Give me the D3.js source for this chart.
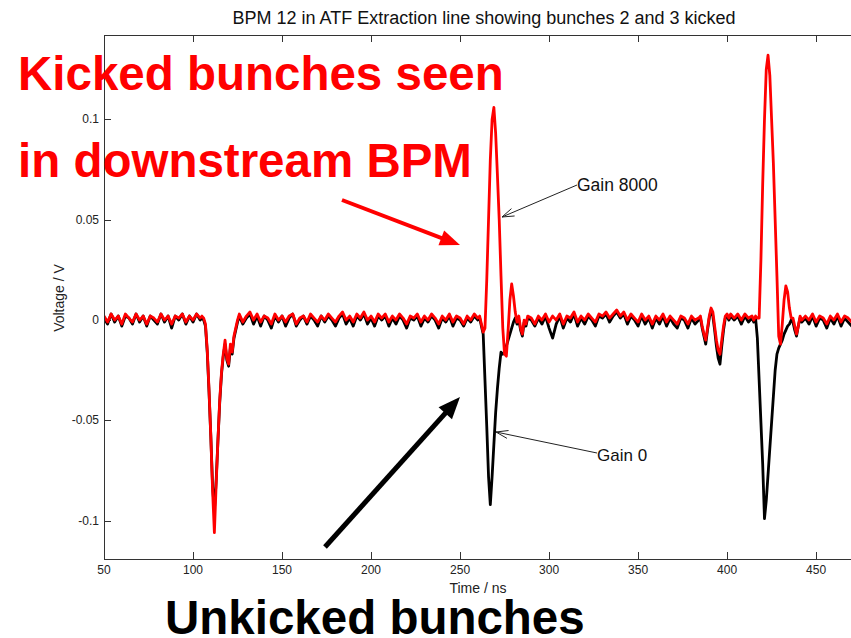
<!DOCTYPE html>
<html><head><meta charset="utf-8">
<script src="https://cdn.jsdelivr.net/npm/d3@7"></script>
<style>html,body{margin:0;padding:0;background:#fff;}svg{display:block;}</style>
</head><body>
<script>
// ---- data ----
const timeNs = [
 50,52,54,56,58,60,62,64,66,68,70,72,74,76,78,80,82,84,86,88,90,92,94,96,98,100,102,104,
 105,106,107,108,109,110,111,112,113,114,115,116,117,118,119,120,121,122,123,124,125,126,127,128,
 130,132,134,136,138,140,142,144,146,148,150,152,154,156,158,160,162,164,166,168,170,172,174,176,178,180,182,184,186,188,190,192,194,196,198,200,202,204,206,208,210,212,214,216,218,220,222,224,226,228,230,232,234,236,238,240,242,244,246,248,250,252,254,256,258,260,
 261,262,263,264,265,266,267,268,269,270,271,272,273,274,275,276,277,278,279,280,281,282,283,284,285,286,287,288,
 290,292,294,296,298,300,302,304,306,308,310,312,314,316,318,320,322,324,326,328,330,332,334,336,338,340,342,344,346,348,350,352,354,356,358,360,362,364,366,368,370,372,374,376,378,380,382,384,
 385,386,387,388,389,390,391,392,393,394,395,396,397,398,399,400,401,402,
 404,406,408,410,412,414,
 415,416,417,418,419,420,421,422,423,424,425,426,427,428,429,430,431,432,433,434,435,436,437,438,439,440,441,442,
 444,446,448,450,452,454,456,458,460,462,464,466,468,470,472,474
];
// Gain 0 trace (black)
const gain0 = [
 0.001,-0.002,0.003,-0.001,0.002,-0.003,0.002,0.001,-0.002,0.003,-0.001,0.002,-0.003,0.002,0.000,-0.002,0.003,-0.001,0.002,-0.004,0.002,0.000,0.003,-0.002,0.002,-0.001,0.003,0.000,
 0.001,0.000,-0.003,-0.016,-0.036,-0.058,-0.083,-0.095,-0.080,-0.060,-0.041,-0.027,-0.018,-0.012,-0.020,-0.023,-0.014,-0.017,-0.009,-0.005,-0.001,0.002,0.000,-0.002,
 0.001,0.003,-0.002,0.002,-0.003,0.002,0.000,-0.004,0.002,-0.001,0.002,-0.003,0.001,0.003,-0.003,0.000,0.002,-0.002,0.002,0.000,-0.003,0.002,-0.001,0.002,0.000,-0.003,0.001,0.003,-0.002,0.001,-0.003,0.002,0.000,0.003,-0.002,0.001,-0.003,0.002,0.000,0.002,-0.003,0.001,-0.002,0.002,0.000,-0.004,0.001,0.000,0.002,-0.003,0.001,-0.001,0.002,0.000,-0.004,0.001,-0.001,0.002,-0.003,0.001,0.000,-0.003,0.001,-0.001,0.002,0.000,
 0.001,-0.003,-0.007,-0.030,-0.053,-0.078,-0.092,-0.078,-0.062,-0.046,-0.034,-0.024,-0.016,-0.017,-0.016,-0.013,-0.010,-0.007,-0.004,-0.001,0.001,-0.002,0.000,-0.005,-0.008,-0.001,-0.003,0.001,
 0.000,-0.003,0.001,-0.002,0.002,-0.004,-0.009,-0.002,0.002,-0.004,0.001,-0.001,0.003,-0.003,0.001,-0.002,0.002,0.000,-0.003,0.002,0.001,0.003,-0.001,0.002,0.004,0.001,0.003,-0.002,0.002,0.000,-0.003,0.002,-0.002,0.001,-0.004,0.001,-0.002,0.002,-0.003,0.001,-0.002,-0.004,0.001,0.000,-0.004,0.001,-0.002,0.000,
 0.001,-0.004,-0.008,-0.012,-0.005,0.001,0.005,0.002,-0.005,-0.013,-0.019,-0.022,-0.013,-0.005,0.001,0.002,0.000,0.002,
 0.000,0.002,-0.002,0.002,-0.001,0.001,
 -0.001,0.001,-0.009,-0.030,-0.051,-0.072,-0.099,-0.090,-0.077,-0.064,-0.051,-0.038,-0.025,-0.017,-0.014,-0.012,-0.010,-0.007,-0.005,-0.003,-0.002,0.000,-0.001,-0.005,-0.008,-0.003,0.001,-0.001,
 0.001,-0.002,0.002,-0.003,0.001,0.000,-0.004,0.001,-0.002,0.002,-0.003,0.001,-0.001,-0.003,0.001,-0.001
];
// Gain 8000 trace (red)
const gain8000 = [
 0.002,-0.001,0.003,0.000,0.002,-0.002,0.003,0.001,-0.001,0.003,0.000,0.002,-0.002,0.002,0.001,-0.001,0.003,0.000,0.002,-0.002,0.002,0.001,0.003,-0.001,0.002,0.000,0.003,0.001,
 0.002,0.001,-0.002,-0.015,-0.035,-0.058,-0.085,-0.106,-0.082,-0.060,-0.040,-0.026,-0.017,-0.010,-0.019,-0.022,-0.012,-0.016,-0.008,-0.004,0.000,0.003,0.001,-0.001,
 0.002,0.004,0.000,0.003,-0.001,0.002,0.001,-0.002,0.003,0.000,0.002,-0.001,0.002,0.003,-0.002,0.001,0.002,-0.001,0.003,0.001,-0.001,0.002,0.000,0.003,0.001,-0.001,0.002,0.004,0.000,0.002,-0.001,0.003,0.001,0.004,0.000,0.002,-0.001,0.003,0.001,0.003,-0.001,0.002,0.000,0.003,0.001,-0.002,0.002,0.001,0.003,-0.001,0.002,0.000,0.003,0.001,-0.002,0.002,0.000,0.003,-0.001,0.002,0.001,-0.002,0.002,0.000,0.003,0.001,
 0.002,-0.002,-0.006,-0.004,0.020,0.050,0.080,0.100,0.106,0.093,0.072,0.050,0.022,-0.004,-0.017,-0.018,-0.005,0.010,0.018,0.012,0.004,-0.001,0.002,-0.004,-0.007,0.000,-0.002,0.002,
 0.001,-0.002,0.002,0.000,0.003,-0.001,0.002,0.000,0.003,-0.002,0.002,0.001,0.004,-0.001,0.002,0.000,0.003,0.001,-0.001,0.003,0.002,0.004,0.001,0.003,0.005,0.002,0.004,0.000,0.003,0.001,-0.001,0.003,0.000,0.002,-0.002,0.002,0.000,0.003,-0.001,0.002,0.000,-0.002,0.002,0.001,-0.002,0.002,0.000,0.001,
 0.002,-0.003,-0.007,-0.010,-0.004,0.002,0.006,0.004,-0.003,-0.010,-0.015,-0.017,-0.010,-0.003,0.002,0.003,0.001,0.003,
 0.001,0.003,0.000,0.003,0.001,0.002,
 0.000,0.002,0.001,0.001,0.030,0.068,0.100,0.125,0.132,0.122,0.100,0.078,0.050,0.022,-0.008,-0.012,-0.002,0.010,0.017,0.014,0.006,0.001,0.001,-0.003,-0.007,-0.003,0.002,0.000,
 0.002,0.000,0.003,-0.001,0.002,0.001,-0.002,0.002,0.000,0.003,-0.001,0.002,0.001,-0.001,0.002,0.000
];
const xTicks = [50,100,150,200,250,300,350,400,450];
const yTicks = [-0.1,-0.05,0,0.05,0.1];
const yTickLabels = ["-0.1","-0.05","0","0.05","0.1"];

// ---- layout ----
const W = 851, H = 638;
const L = 104, T = 35, B = 559;
const svg = d3.select("body").append("svg").attr("width", W).attr("height", H);

const x = d3.scaleLinear().domain([50, 469.6]).range([L, W]);
const y = d3.scaleLinear().domain([-0.1191, 0.1421]).range([B, T]);

const font = "'Liberation Sans', Arial, sans-serif";

// axes frame
const axCol = "#333";
svg.append("line").attr("x1", L).attr("x2", W).attr("y1", T + 0.5).attr("y2", T + 0.5).attr("stroke", axCol);
svg.append("line").attr("x1", L).attr("x2", W).attr("y1", B + 0.5).attr("y2", B + 0.5).attr("stroke", axCol);
svg.append("line").attr("x1", L + 0.5).attr("x2", L + 0.5).attr("y1", T).attr("y2", B + 1).attr("stroke", axCol);

// x ticks (bottom & top, inward)
const xt = svg.append("g");
xTicks.forEach(t => {
  const px = Math.round(x(t)) + 0.5;
  if (t !== 50) {
    xt.append("line").attr("x1", px).attr("x2", px).attr("y1", B).attr("y2", B - 7).attr("stroke", axCol);
    xt.append("line").attr("x1", px).attr("x2", px).attr("y1", T).attr("y2", T + 7).attr("stroke", axCol);
  }
  xt.append("text").attr("x", x(t)).attr("y", B + 15).attr("text-anchor", "middle")
    .attr("font-family", font).attr("font-size", 12).attr("fill", "#222").text(d3.format("d")(t));
});
// y ticks (left, inward)
yTicks.forEach((v, i) => {
  const py = Math.round(y(v)) + 0.5;
  svg.append("line").attr("x1", L).attr("x2", L + 7).attr("y1", py).attr("y2", py).attr("stroke", axCol);
  svg.append("text").attr("x", L - 5).attr("y", y(v) + 4).attr("text-anchor", "end")
    .attr("font-family", font).attr("font-size", 12).attr("fill", "#222").text(yTickLabels[i]);
});

// titles
svg.append("text").attr("x", 484).attr("y", 24).attr("text-anchor", "middle")
  .attr("font-family", font).attr("font-size", 18).attr("fill", "#111")
  .text("BPM 12 in ATF Extraction line showing bunches 2 and 3 kicked");
svg.append("text").attr("x", 478).attr("y", 593).attr("text-anchor", "middle")
  .attr("font-family", font).attr("font-size", 14).attr("fill", "#222").text("Time / ns");
svg.append("text").attr("transform", "translate(64,298) rotate(-90)").attr("text-anchor", "middle")
  .attr("font-family", font).attr("font-size", 14).attr("fill", "#222").text("Voltage / V");

// traces
svg.append("clipPath").attr("id", "clip").append("rect").attr("x", L + 1).attr("y", T).attr("width", W - L).attr("height", B - T);
const lineGen = vals => d3.line().x((d, i) => x(timeNs[i])).y(d => y(d))(vals);
const plot = svg.append("g").attr("clip-path", "url(#clip)");
plot.append("path").attr("d", lineGen(gain0)).attr("fill", "none").attr("stroke", "#000").attr("stroke-width", 2.8).attr("stroke-linejoin", "round");
plot.append("path").attr("d", lineGen(gain8000)).attr("fill", "none").attr("stroke", "#ff0000").attr("stroke-width", 2.8).attr("stroke-linejoin", "round");

// arrow helper
function arrow(x1, y1, x2, y2, color, w, hl, hw, filled) {
  const a = Math.atan2(y2 - y1, x2 - x1);
  const bx = x2 - hl * Math.cos(a), by = y2 - hl * Math.sin(a);
  const px = -Math.sin(a) * hw / 2, py = Math.cos(a) * hw / 2;
  if (filled) {
    svg.append("line").attr("x1", x1).attr("y1", y1).attr("x2", bx + hl * 0.3 * Math.cos(a)).attr("y2", by + hl * 0.3 * Math.sin(a))
      .attr("stroke", color).attr("stroke-width", w);
    svg.append("path").attr("d", `M${x2},${y2}L${bx + px},${by + py}L${bx - px},${by - py}Z`).attr("fill", color);
  } else {
    svg.append("line").attr("x1", x1).attr("y1", y1).attr("x2", x2).attr("y2", y2).attr("stroke", color).attr("stroke-width", w);
    svg.append("path").attr("d", `M${bx + px},${by + py}L${x2},${y2}L${bx - px},${by - py}`).attr("fill", "none").attr("stroke", color).attr("stroke-width", w);
  }
}

// thin annotation arrows
arrow(577, 185, 502, 217, "#222", 1, 12, 8, false);
svg.append("text").attr("x", 577).attr("y", 191).attr("font-family", font).attr("font-size", 17.5).attr("fill", "#111").text("Gain 8000");
arrow(597, 453, 496, 432, "#222", 1, 12, 8, false);
svg.append("text").attr("x", 597).attr("y", 461).attr("font-family", font).attr("font-size", 17).attr("fill", "#111").text("Gain 0");

// big callouts
arrow(342, 200, 460, 245, "#ff0000", 4, 20, 16, true);
arrow(325, 547, 460, 397, "#000", 5, 22, 18, true);
svg.append("text").attr("x", 18).attr("y", 90).attr("font-family", font).attr("font-weight", "bold").attr("font-size", 47.5).attr("fill", "#ff0000").text("Kicked bunches seen");
svg.append("text").attr("x", 18).attr("y", 177).attr("font-family", font).attr("font-weight", "bold").attr("font-size", 47.5).attr("fill", "#ff0000").text("in downstream BPM");
svg.append("text").attr("x", 165).attr("y", 634).attr("font-family", font).attr("font-weight", "bold").attr("font-size", 47.5).attr("fill", "#000").text("Unkicked bunches");
</script>
</body></html>
